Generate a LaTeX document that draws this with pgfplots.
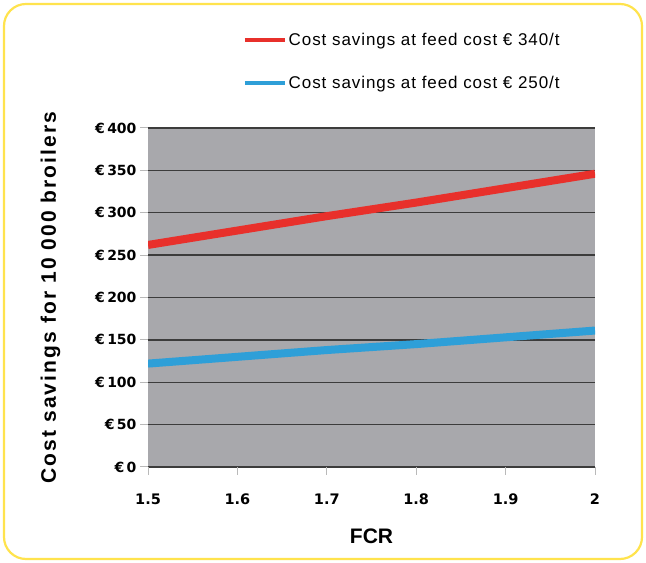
\documentclass[border=0pt]{standalone}
\usepackage{pgfplots}
\pgfplotsset{compat=1.18}
\usepackage{fontspec}
\setmainfont{Liberation Sans}
\newfontfamily\tickfont{DejaVu Sans}
\newfontfamily\legfont[LetterSpace=5.5]{Liberation Sans}
\newfontfamily\ylabfont[LetterSpace=10]{Liberation Sans}
\definecolor{bgray}{HTML}{A8A8AC}
\definecolor{gridc}{HTML}{3C3C3C}
\definecolor{lred}{HTML}{E8302B}
\definecolor{lblue}{HTML}{2E9FD8}
\definecolor{frameyel}{HTML}{FFE34D}
\begin{document}
\begin{tikzpicture}[x=1bp,y=1bp]
\fill[white] (0,0) rectangle (646,563);
\draw[frameyel, line width=2.2bp, rounded corners=22bp] (4,4) rectangle (642,559);
\begin{axis}[
  at={(148bp,96bp)}, anchor=south west,
  scale only axis, width=447bp, height=339bp,
  xmin=1.5, xmax=2, ymin=0, ymax=400,
  xtick={1.5,1.6,...,2.01}, ytick={0,50,...,400},
  xticklabels={1.5,1.6,1.7,1.8,1.9,2},
  yticklabel={€\,\pgfmathprintnumber{\tick}},
  xticklabel style={font=\tickfont\fontsize{14.5bp}{17bp}\selectfont\bfseries, yshift=-15bp},
  yticklabel style={font=\tickfont\fontsize{14bp}{17bp}\selectfont\bfseries},
  /pgf/number format/assume math mode=true,
  axis background/.style={fill=bgray},
  axis line style={draw=none},
  tick style={draw=gray!55, line width=1bp},
  tick align=outside, major tick length=8bp,
  xtick pos=bottom, ytick pos=left,
  ymajorgrids, grid style={draw=gridc, line width=1.4bp},
  xlabel={\textbf{FCR}}, xlabel style={font=\fontsize{21bp}{23bp}\selectfont, yshift=-18bp},
  ylabel={\ylabfont\bfseries Cost savings for 10 000 broilers},
  ylabel style={font=\fontsize{21bp}{23bp}\selectfont, yshift=28bp},
  legend style={at={(0.2125,1.286)}, anchor=north west, draw=none, fill=none,
    font=\legfont\fontsize{17bp}{19bp}\selectfont, row sep=25bp, inner sep=0pt,
    /tikz/every even column/.append style={column sep=2bp}},
  legend cell align=left,
  legend image code/.code={\draw[#1, line width=3.5bp] (0bp,0bp) -- (40bp,0bp);},
]
\addplot[lred, line width=8bp] coordinates {(1.5,262) (1.6,279) (1.7,296) (1.8,312) (1.9,329) (2,346)};
\addlegendentry{Cost savings at feed cost € 340/t}
\addplot[lblue, line width=8bp] coordinates {(1.5,122) (1.6,130) (1.7,138) (1.8,145) (1.9,153) (2,161)};
\addlegendentry{Cost savings at feed cost € 250/t}
\end{axis}
\end{tikzpicture}
\end{document}
